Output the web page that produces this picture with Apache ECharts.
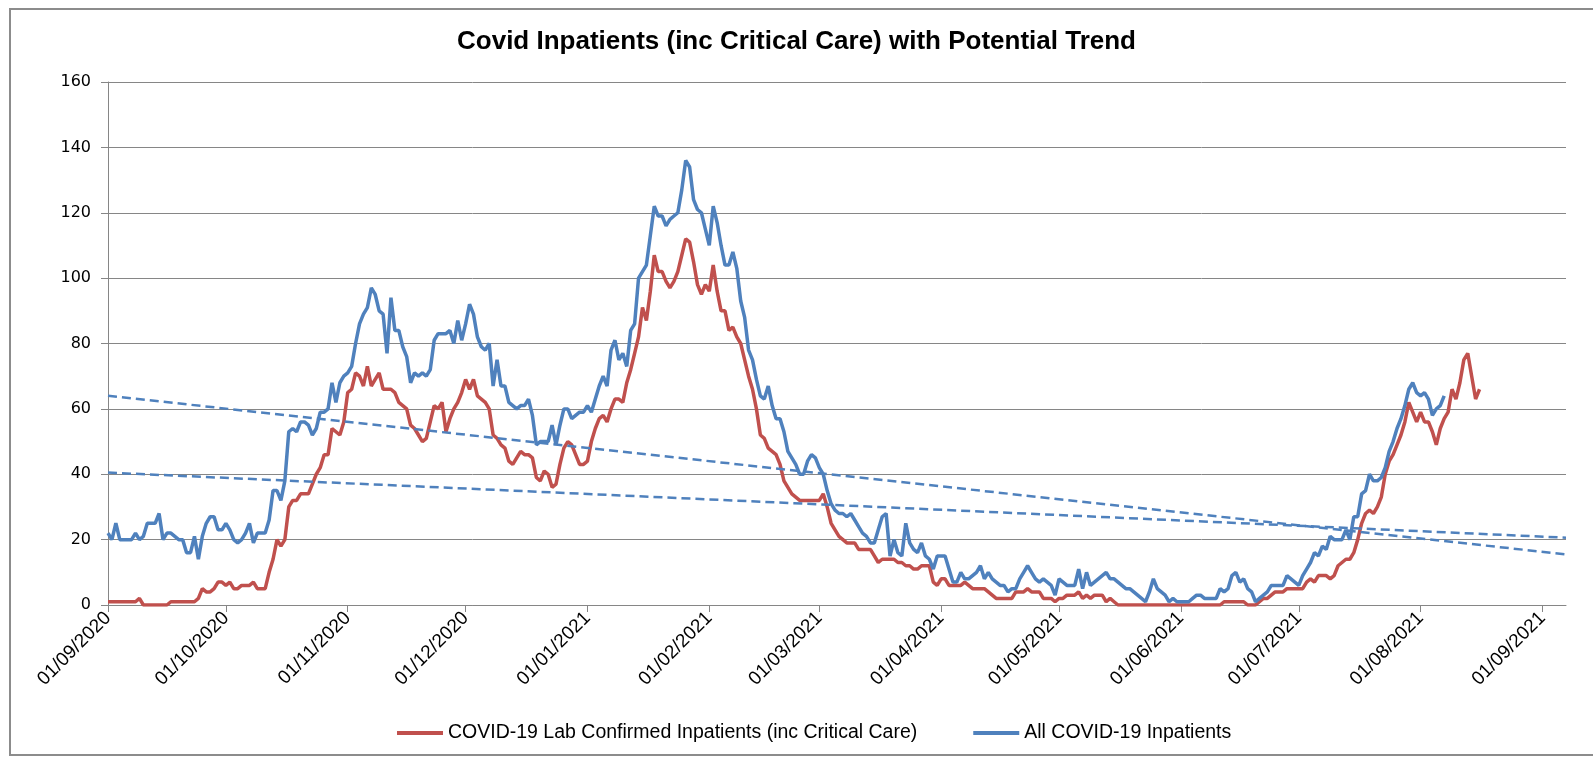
<!DOCTYPE html>
<html>
<head>
<meta charset="utf-8">
<title>Covid Inpatients</title>
<script src="https://cdn.jsdelivr.net/npm/echarts@6/dist/echarts.min.js"></script>
<style>
  html, body { margin: 0; padding: 0; background: #fff; }
  #chart { width: 1593px; height: 757px; }
</style>
</head>
<body>
<div id="chart"></div>
<script>
// daily axis: 01/09/2020 .. 07/09/2021
const startDate = '2020-09-01';
const dayCount = 372;

const tickLabels = ['01/09/2020', '01/10/2020', '01/11/2020', '01/12/2020', '01/01/2021', '01/02/2021',
  '01/03/2021', '01/04/2021', '01/05/2021', '01/06/2021', '01/07/2021', '01/08/2021', '01/09/2021'];

// COVID-19 Lab Confirmed Inpatients (inc Critical Care), from 01/09/2020
const labConfirmed = [
  1, 1, 1, 1, 1, 1, 1, 1, 2, 0,
  0, 0, 0, 0, 0, 0, 1, 1, 1, 1,
  1, 1, 1, 2, 5, 4, 4, 5, 7, 7,
  6, 7, 5, 5, 6, 6, 6, 7, 5, 5,
  5, 10, 14, 20, 18, 20, 30, 32, 32, 34,
  34, 34, 37, 40, 42, 46, 46, 54, 53, 52,
  56, 65, 66, 71, 70, 67, 73, 67, 69, 71,
  66, 66, 66, 65, 62, 61, 60, 55, 54, 52,
  50, 51, 56, 61, 60, 62, 53, 57, 60, 62,
  65, 69, 66, 69, 64, 63, 62, 60, 52, 51,
  49, 48, 44, 43, 45, 47, 46, 46, 45, 39,
  38, 41, 40, 36, 37, 43, 48, 50, 49, 46,
  43, 43, 44, 50, 54, 57, 58, 56, 60, 63,
  63, 62, 68, 72, 77, 82, 91, 87, 96, 107,
  102, 102, 99, 97, 99, 102, 107, 112, 111, 105,
  98, 95, 98, 96, 104, 96, 90, 90, 84, 85,
  82, 80, 75, 70, 66, 60, 52, 51, 48, 47,
  46, 43, 38, 36, 34, 33, 32, 32, 32, 32,
  32, 32, 34, 30, 25, 23, 21, 20, 19, 19,
  19, 17, 17, 17, 17, 15, 13, 14, 14, 14,
  14, 13, 13, 12, 12, 11, 11, 12, 12, 12,
  7, 6, 8, 8, 6, 6, 6, 6, 7, 6,
  5, 5, 5, 5, 4, 3, 2, 2, 2, 2,
  2, 4, 4, 4, 5, 4, 4, 4, 2, 2,
  2, 1, 2, 2, 3, 3, 3, 4, 2, 3,
  2, 3, 3, 3, 1, 2, 1, 0, 0, 0,
  0, 0, 0, 0, 0, 0, 0, 0, 0, 0,
  0, 0, 0, 0, 0, 0, 0, 0, 0, 0,
  0, 0, 0, 0, 1, 1, 1, 1, 1, 1,
  0, 0, 0, 1, 2, 2, 3, 4, 4, 4,
  5, 5, 5, 5, 5, 7, 8, 7, 9, 9,
  9, 8, 9, 12, 13, 14, 14, 16, 20, 25,
  28, 29, 28, 30, 33, 40, 44, 46, 49, 52,
  56, 62, 59, 56, 59, 56, 56, 53, 49, 54,
  57, 59, 66, 63, 68, 75, 77, 70, 63, 66
];

// All COVID-19 Inpatients, from 01/09/2020
const allInpatients = [
  22, 20, 25, 20, 20, 20, 20, 22, 20, 21,
  25, 25, 25, 28, 20, 22, 22, 21, 20, 20,
  16, 16, 21, 14, 21, 25, 27, 27, 23, 23,
  25, 23, 20, 19, 20, 22, 25, 19, 22, 22,
  22, 26, 35, 35, 32, 38, 53, 54, 53, 56,
  56, 55, 52, 54, 59, 59, 60, 68, 62, 68,
  70, 71, 73, 80, 86, 89, 91, 97, 95, 90,
  89, 77, 94, 84, 84, 79, 76, 68, 71, 70,
  71, 70, 72, 81, 83, 83, 83, 84, 80, 87,
  81, 86, 92, 89, 82, 79, 78, 80, 67, 75,
  67, 67, 62, 61, 60, 61, 61, 63, 58, 49,
  50, 50, 50, 55, 49, 55, 60, 60, 57, 58,
  59, 59, 61, 59, 63, 67, 70, 67, 78, 81,
  75, 77, 73, 84, 86, 100, 102, 104, 113, 122,
  119, 119, 116, 118, 119, 120, 127, 136, 134, 124,
  121, 120, 115, 110, 122, 117, 110, 104, 104, 108,
  103, 93, 88, 78, 75, 69, 64, 63, 67, 61,
  57, 57, 53, 47, 45, 43, 40, 40, 44, 46,
  45, 42, 40, 35, 31, 29, 28, 28, 27, 28,
  26, 24, 22, 21, 19, 19, 23, 27, 28, 15,
  20, 16, 15, 25, 19, 17, 16, 19, 15, 14,
  11, 15, 15, 15, 11, 7, 7, 10, 8, 8,
  9, 10, 12, 8, 10, 8, 7, 6, 6, 4,
  5, 5, 8, 10, 12, 10, 8, 7, 8, 7,
  6, 3, 8, 7, 6, 6, 6, 11, 5, 10,
  6, 7, 8, 9, 10, 8, 8, 7, 6, 5,
  5, 4, 3, 2, 1, 4, 8, 5, 4, 3,
  1, 2, 1, 1, 1, 1, 2, 3, 3, 2,
  2, 2, 2, 5, 4, 5, 9, 10, 7, 8,
  5, 4, 1, 2, 3, 4, 6, 6, 6, 6,
  9, 8, 7, 6, 9, 11, 13, 16, 15, 18,
  17, 21, 20, 20, 20, 23, 20, 27, 27, 34,
  35, 40, 38, 38, 39, 42, 47, 50, 54, 57,
  61, 66, 68, 65, 64, 65, 63, 58, 60, 61,
  64
];

// linear trend lines: value at first and last day of the axis
const trendAll = [64.0, 15.5];
const trendLab = [40.5, 20.6];

const seriesNames = ['COVID-19 Lab Confirmed Inpatients (inc Critical Care)', 'All COVID-19 Inpatients'];

function buildDays() {
  const out = [];
  const d0 = new Date(startDate + 'T00:00:00Z');
  for (let i = 0; i < dayCount; i++) {
    const d = new Date(d0.getTime() + i * 86400000);
    const dd = String(d.getUTCDate()).padStart(2, '0');
    const mm = String(d.getUTCMonth() + 1).padStart(2, '0');
    out.push(dd + '/' + mm + '/' + d.getUTCFullYear());
  }
  return out;
}

function trendData(ends) {
  const arr = new Array(dayCount).fill(null);
  arr[0] = ends[0];
  arr[dayCount - 1] = ends[1];
  return arr;
}

const days = buildDays();
const tickSet = new Set(tickLabels);
const isTick = (idx, val) => tickSet.has(val);

const gray = '#868686';
const red = '#C0504D';
const blue = '#4F81BD';
const textFont = "'Liberation Sans', Arial, sans-serif";

const chart = echarts.init(document.getElementById('chart'));

chart.setOption({
  animation: false,
  backgroundColor: '#fff',
  title: {
    text: 'Covid Inpatients (inc Critical Care) with Potential Trend',
    left: 'center',
    top: 29,
    padding: 0,
    textStyle: {
      fontFamily: textFont,
      fontWeight: 'bold',
      fontSize: 26,
      color: '#000'
    }
  },
  graphic: [{
    type: 'rect',
    shape: { x: 10, y: 9, width: 1600, height: 746 },
    style: { fill: null, stroke: '#8c8c8c', lineWidth: 2 },
    silent: true
  }],
  legend: {
    data: seriesNames,
    left: 392,
    top: 718,
    itemWidth: 46,
    itemHeight: 4,
    itemGap: 56,
    icon: 'rect',
    textStyle: {
      fontFamily: textFont,
      fontSize: 19.5,
      color: '#000'
    }
  },
  grid: { left: 108, right: 27, top: 82, bottom: 152 },
  xAxis: {
    type: 'category',
    data: days,
    boundaryGap: false,
    axisLine: { lineStyle: { color: gray, width: 1 } },
    axisTick: { interval: isTick, length: 7, lineStyle: { color: gray } },
    axisLabel: {
      interval: isTick,
      rotate: 45,
      margin: 10,
      fontFamily: textFont,
      fontSize: 19,
      color: '#000'
    },
    splitLine: { show: false }
  },
  yAxis: {
    type: 'value',
    min: 0,
    max: 160,
    interval: 20,
    axisLine: { show: true, lineStyle: { color: gray, width: 1 } },
    axisTick: { show: true, length: 7, lineStyle: { color: gray } },
    axisLabel: {
      margin: 17,
      fontFamily: 'DejaVu Sans',
      fontSize: 16,
      color: '#000'
    },
    splitLine: { lineStyle: { color: gray, width: 1 } }
  },
  series: [
    {
      name: seriesNames[0],
      type: 'line',
      data: labConfirmed,
      showSymbol: false,
      color: red,
      lineStyle: { width: 3.5, color: red },
      z: 3
    },
    {
      name: seriesNames[1],
      type: 'line',
      data: allInpatients,
      showSymbol: false,
      color: blue,
      lineStyle: { width: 3.5, color: blue },
      z: 4
    },
    {
      name: 'Trend (All)',
      type: 'line',
      data: trendData(trendAll),
      connectNulls: true,
      showSymbol: false,
      lineStyle: { width: 2.5, color: blue, type: [9, 5] },
      z: 5
    },
    {
      name: 'Trend (Lab)',
      type: 'line',
      data: trendData(trendLab),
      connectNulls: true,
      showSymbol: false,
      lineStyle: { width: 2.5, color: blue, type: [9, 5] },
      z: 5
    }
  ]
});
</script>
</body>
</html>
